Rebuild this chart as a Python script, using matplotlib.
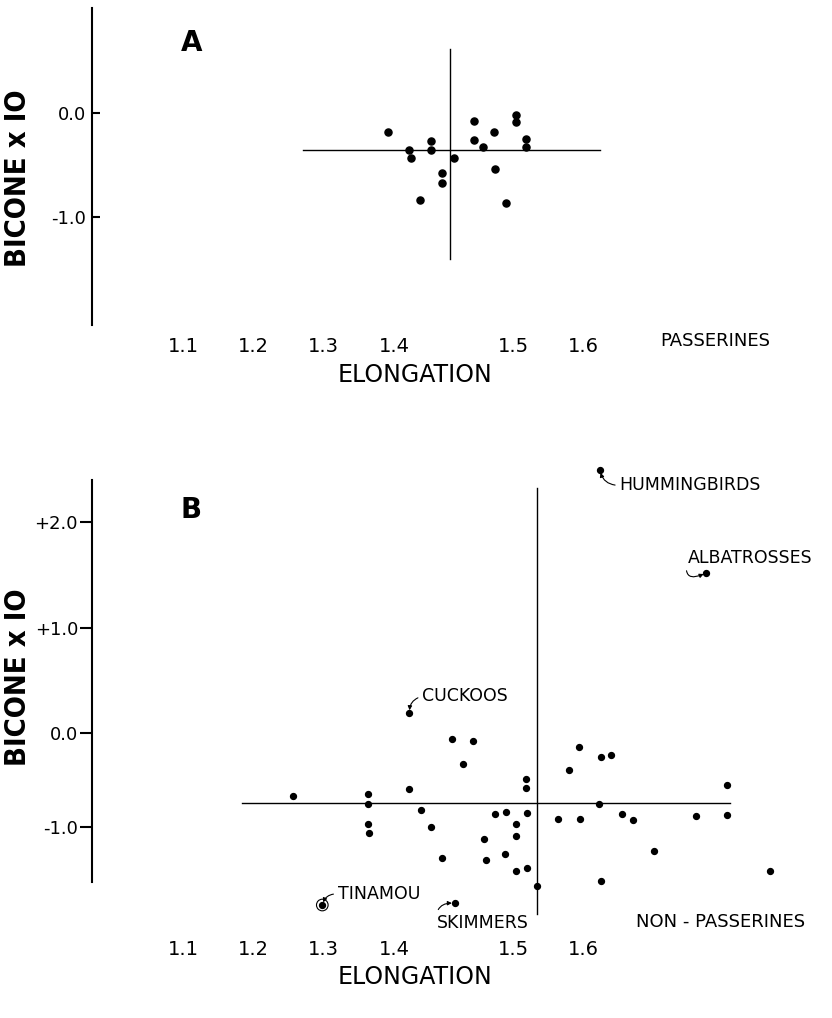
import numpy as np
import matplotlib.pyplot as plt

# ---- values ----
ticks_x = [1.1, 1.2, 1.3, 1.4, 1.5, 1.6]
tick_labels_x = ['1.1', '1.2', '1.3', '1.4', '1.5', '1.6']

# A: passerines
pass_elong = [1.391, 1.413, 1.414, 1.431, 1.431, 1.440, 1.440, 1.422, 1.450, 1.467,
              1.467, 1.475, 1.484, 1.485, 1.494, 1.504, 1.504, 1.519, 1.519]
pass_bicone = [-0.18, -0.36, -0.43, -0.27, -0.36, -0.58, -0.67, -0.84, -0.43, -0.08,
               -0.26, -0.33, -0.18, -0.54, -0.87, -0.02, -0.09, -0.25, -0.33]
pass_mean = (1.447, -0.36)
pass_span_x = (1.271, 1.624)
pass_span_y = (-1.40, 0.62)
ticks_ya = [0.0, -1.0]
tick_labels_ya = ['0.0', '-1.0']

# B: non-passerines
nonpass_elong = [1.257, 1.363, 1.364, 1.413, 1.449, 1.466, 1.458, 1.518, 1.519, 1.423,
                 1.485, 1.494, 1.520, 1.595, 1.626, 1.640, 1.580, 1.806, 1.623, 1.565,
                 1.596, 1.656, 1.671, 1.761, 1.806, 1.431, 1.364, 1.365, 1.504, 1.504,
                 1.476, 1.440, 1.477, 1.493, 1.504, 1.520, 1.535, 1.701, 1.626, 1.867]
nonpass_bicone = [-0.67, -0.65, -0.75, -0.60, -0.06, -0.09, -0.33, -0.49, -0.59, -0.82,
                  -0.86, -0.84, -0.85, -0.15, -0.25, -0.23, -0.39, -0.55, -0.76, -0.92,
                  -0.92, -0.86, -0.93, -0.88, -0.87, -1.00, -0.97, -1.06, -0.97, -1.10,
                  -1.13, -1.33, -1.35, -1.29, -1.47, -1.44, -1.63, -1.26, -1.57, -1.47]
named = ['HUMMINGBIRDS', 'ALBATROSSES', 'CUCKOOS', 'TINAMOU', 'SKIMMERS']
named_elong = [1.624, 1.776, 1.413, 1.299, 1.451]
named_bicone = [2.49, 1.52, 0.19, -1.83, -1.81]
nonpass_mean = (1.534, -0.745)
nonpass_span_x = (1.184, 1.81)
nonpass_span_y = (-1.93, 2.32)
ticks_yb = [2.0, 1.0, 0.0, -1.0]
tick_labels_yb = ['+2.0', '+1.0', '0.0', '-1.0']

# ---- layout ----
W, H = 832, 1018
# the lettered tick labels are unevenly spaced, so the scales are piecewise linear
x_vals = [0.7, 0.8, 0.9, 1.0, 1.1, 1.2, 1.3, 1.4, 1.5, 1.6, 1.7, 1.8, 1.9, 2.0, 2.1]
x_pix = [-97, -27, 43, 113, 183, 253, 323, 394, 513, 583, 653, 723, 793, 863, 933]
ya_vals = [-4, -3, -2, -1, 0, 1, 2]
ya_pix = [529, 425, 321, 217, 113, 9, -95]
yb_vals = [-4, -3, -2, -1, 0, 1, 2, 3, 4]
yb_pix = [1109, 1015, 921, 827, 733, 628, 522, 416, 310]


def xscale(ax):
    fwd = lambda v: np.interp(v, x_vals, x_pix)
    inv = lambda p: np.interp(p, x_pix, x_vals)
    ax.set_xscale('function', functions=(fwd, inv))
    return inv


def yscale(ax, vals, pix):
    fwd = lambda v: -np.interp(v, vals, pix)
    inv = lambda p: np.interp(-p, pix[::-1], vals[::-1])
    ax.set_yscale('function', functions=(fwd, inv))
    return lambda py: np.interp(py, pix[::-1], vals[::-1])


fig = plt.figure(figsize=(W / 100, H / 100), dpi=100)
axA = fig.add_axes([0, 1 - 420 / H, 1, 420 / H])
axB = fig.add_axes([0, 0, 1, 598 / H])

label_font = dict(family='DejaVu Sans', fontstretch='condensed', fontweight='bold', fontsize=21)

panels = [
    (axA, ya_vals, ya_pix, (0, 420), (8, 325), 334, 363, 'A', 43, 'PASSERINES', 770, 341, 'in', 6),
    (axB, yb_vals, yb_pix, (420, 1018), (480, 882), 937, 965, 'B', 510, 'NON - PASSERINES', 805, 922, 'out', 9),
]
for (ax, yv, yp, band, axis_px, tick_px, xlab_px, letter, letter_px,
     group, group_x, group_px, tdir, tlen) in panels:
    xinv = xscale(ax)
    ypix = yscale(ax, yv, yp)
    ax.set_xlim(xinv(0), xinv(W))
    ax.set_ylim(ypix(band[1]), ypix(band[0]))
    ax.set_facecolor('none')
    for s in ['top', 'right']:
        ax.spines[s].set_visible(False)
    ax.spines['left'].set_position(('data', xinv(92)))
    ax.spines['left'].set_bounds(ypix(axis_px[1]), ypix(axis_px[0]))
    ax.spines['left'].set_linewidth(1.5)
    ax.spines['bottom'].set_color('none')
    ax.spines['bottom'].set_position(('data', ypix(tick_px)))
    ax.set_xticks(ticks_x)
    ax.set_xticklabels(tick_labels_x, fontsize=14)
    ax.tick_params(axis='x', length=0, pad=2)
    ax.xaxis.set_minor_locator(plt.NullLocator())
    ax.yaxis.set_minor_locator(plt.NullLocator())
    ax.set_xlabel('ELONGATION', fontsize=17, labelpad=0)
    ax.xaxis.set_label_coords(415 / W, 1 - (xlab_px - band[0]) / (band[1] - band[0]))
    ax.set_ylabel('BICONE x IO', **label_font)
    ax.text(xinv(181), ypix(letter_px), letter, fontsize=20,
            fontweight='bold', va='center', ha='left')
    ax.text(xinv(group_x), ypix(group_px), group, fontsize=13, va='center', ha='right')
    ax.tick_params(axis='y', direction=tdir, length=tlen, width=1.5, labelsize=13,
                   pad=4 if tdir == 'in' else 1)

axA.set_yticks(ticks_ya)
axA.set_yticklabels(tick_labels_ya)
axA.yaxis.set_label_coords(32 / W, 1 - 178 / 420)
axB.set_yticks(ticks_yb)
axB.set_yticklabels(tick_labels_yb)
axB.yaxis.set_label_coords(32 / W, 1 - (677 - 420) / 598)

# panel A
axA.scatter(pass_elong, pass_bicone, s=26, color='black', zorder=3)
axA.plot(pass_span_x, [pass_mean[1]] * 2, color='black', lw=1.0)
axA.plot([pass_mean[0]] * 2, pass_span_y, color='black', lw=1.0)

# panel B
axB.scatter(nonpass_elong, nonpass_bicone, s=18, color='black', zorder=3)
axB.scatter(named_elong, named_bicone, s=18, color='black', zorder=3)
axB.plot(nonpass_span_x, [nonpass_mean[1]] * 2, color='black', lw=1.0)
axB.plot([nonpass_mean[0]] * 2, nonpass_span_y, color='black', lw=1.0)
axB.scatter(named_elong[3], named_bicone[3], s=70, facecolor='none', edgecolor='black', lw=0.8)

offsets = [(14, -11), (-13, 11), (9, 12), (11, 8), (-13, -14)]
rads = [-0.4, 1.1, 0.4, 0.4, -0.6]
for name, x, y, off, rad in zip(named, named_elong, named_bicone, offsets, rads):
    axB.annotate(name, xy=(x, y), xytext=off, textcoords='offset points',
                 fontsize=12.5, va='center', ha='left',
                 arrowprops=dict(arrowstyle='-|>', lw=0.8, color='black',
                                 mutation_scale=6, shrinkA=1, shrinkB=2, relpos=(0, 0.5),
                                 connectionstyle=f'arc3,rad={rad}'))

fig.savefig('out.png', dpi=100)
